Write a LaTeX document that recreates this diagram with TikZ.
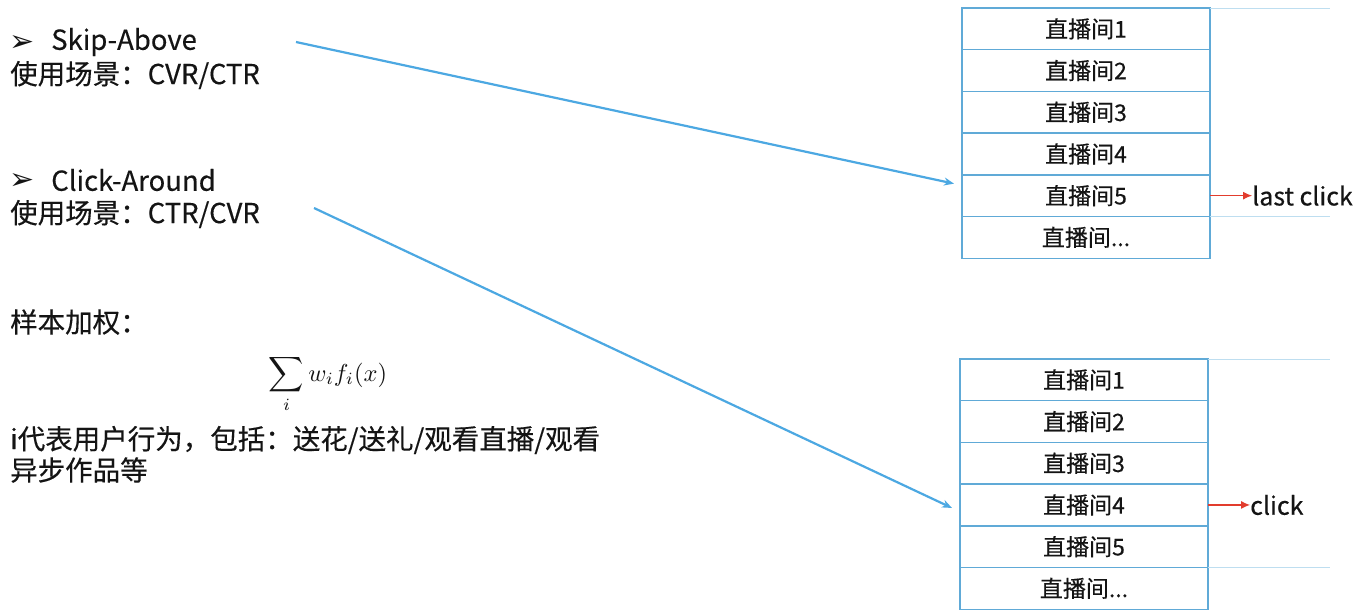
\documentclass[tikz,border=0pt]{standalone}
\usepackage{fontspec}
\setmainfont{Noto Sans CJK SC}[FakeBold=0.35]
\newfontfamily\symfont{DejaVu Sans}
\usetikzlibrary{arrows.meta,calc}
\definecolor{linkblue}{RGB}{76,168,226}
\definecolor{boxblue}{RGB}{96,170,215}
\definecolor{faintblue}{RGB}{190,222,240}
\definecolor{clickred}{RGB}{226,60,45}
\definecolor{txt}{RGB}{20,20,20}
\tikzset{
  row/.style={draw=boxblue, line width=1.4pt, minimum width=248pt, minimum height=41.7pt,
    inner sep=0pt, outer sep=0pt, text=txt, font=\fontsize{23}{25}\selectfont, anchor=north west},
  lefttext/.style={anchor=west, inner sep=0pt, text=txt, font=\fontsize{27.5}{30}\selectfont},
  link/.style={draw=linkblue, line width=2.2pt, -{Stealth[length=10pt,width=8pt]}},
  clk/.style={draw=clickred, line width=1.1pt, -{Latex[length=9pt,width=8pt]}},
  faint/.style={draw=faintblue, line width=0.8pt},
  clicklabel/.style={anchor=west, inner sep=0pt, text=txt, font=\fontsize{25}{27}\selectfont},
  bullet/.style={anchor=west, inner sep=0pt, text=txt, font=\symfont\fontsize{30}{32}\selectfont}
}
\begin{document}
\begin{tikzpicture}[x=1pt,y=-1pt]
\useasboundingbox[fill=white] (0,0) rectangle (1356,614);

% left texts
\node[bullet] (k1) at (9,43) {➢};
\node[lefttext] (m1) at (51,42) {Skip-Above};
\node[lefttext] (u1) at (10,75) {使用场景：CVR/CTR};
\node[bullet] (k2) at (9,181) {➢};
\node[lefttext] (m2) at (51,180) {Click-Around};
\node[lefttext] (u2) at (10,214) {使用场景：CTR/CVR};
\node[lefttext] (w) at (10,322) {样本加权：};
\node[anchor=center, inner sep=0pt, text=txt, scale=2.45] (f) at (328,384)
  {$\displaystyle\sum_i w_i f_i(x)$};
\node[lefttext] (d1) at (10,440) {i代表用户行为，包括：送花/送礼/观看直播/观看};
\node[lefttext] (d2) at (10,470) {异步作品等};

% top table
\node[row] (t1) at (962,8) {直播间1};
\node[row] (t2) at (t1.south west) {直播间2};
\node[row] (t3) at (t2.south west) {直播间3};
\node[row] (t4) at (t3.south west) {直播间4};
\node[row] (t5) at (t4.south west) {直播间5};
\node[row] (t6) at (t5.south west) {直播间...};
\draw[faint] (t1.north east) -- ++(120,0);
\draw[faint] (t5.south east) -- ++(120,0);

% bottom table
\node[row] (b1) at (960,359) {直播间1};
\node[row] (b2) at (b1.south west) {直播间2};
\node[row] (b3) at (b2.south west) {直播间3};
\node[row] (b4) at (b3.south west) {直播间4};
\node[row] (b5) at (b4.south west) {直播间5};
\node[row] (b6) at (b5.south west) {直播间...};
\draw[faint] (b1.north east) -- ++(122,0);
\draw[faint] (b5.south east) -- ++(122,0);

% blue connectors
\coordinate (sa) at (296,42);
\coordinate (sae) at ($(t5.west)+(-8,-12)$);
\draw[link] (sa) -- (sae);
\coordinate (ca) at (314,208);
\coordinate (cae) at ($(b4.west)+(-8,3)$);
\draw[link] (ca) -- (cae);

% click labels
\node[clicklabel] (lc) at ($(t5.east)+(42,0)$) {last click};
\draw[clk] (t5.east) -- (t5.east -| lc.west);
\node[clicklabel] (c) at ($(b4.east)+(42,0)$) {click};
\draw[clk] (b4.east) -- (b4.east -| c.west);
\end{tikzpicture}
\end{document}
